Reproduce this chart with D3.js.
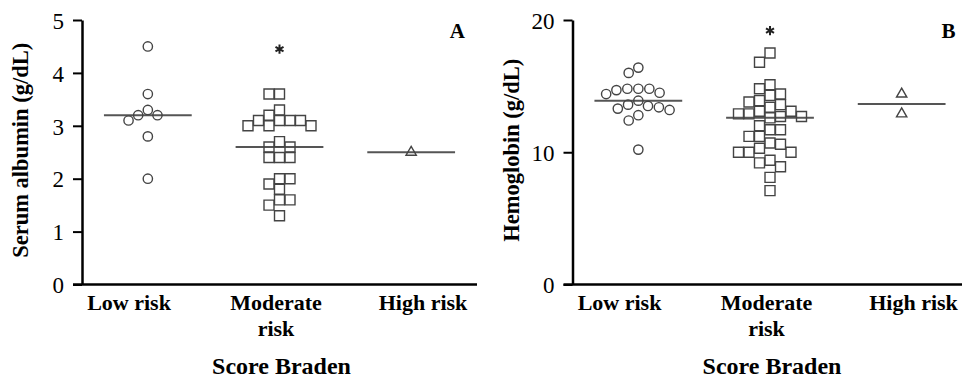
<!DOCTYPE html>
<html>
<head>
<meta charset="utf-8">
<script src="https://cdn.jsdelivr.net/npm/d3@7"></script>
<style>
  html, body { margin: 0; padding: 0; background: #fff; }
  svg { display: block; }
  text { font-family: "Liberation Serif", "Times New Roman", serif; fill: #000; }
</style>
</head>
<body>
<svg id="chart" width="962" height="380"></svg>
<script>
// ---------- data ----------
const categories = ["Low risk", "Moderate risk", "High risk"];
const categoryLines = [["Low risk"], ["Moderate", "risk"], ["High risk"]];
const shapes = ["circle", "square", "triangle"];

const albuminLow = [4.5, 3.6, 3.3, 3.2, 3.2, 3.1, 2.8, 2.0];
const albuminModerate = [3.6, 3.6, 3.3, 3.2, 3.1, 3.1, 3.1, 3.1, 3.0, 3.0, 3.0, 2.7, 2.6, 2.6,
                         2.4, 2.4, 2.4, 2.0, 2.0, 1.9, 1.8, 1.6, 1.6, 1.5, 1.3];
const albuminHigh = [2.5];
const albuminTicks = [0, 1, 2, 3, 4, 5];
const albuminStar = 4.45;   // significance marker on "Moderate risk"

const hemoLow = [16.4, 16.0, 14.8, 14.8, 14.8, 14.7, 14.5, 14.4, 13.9, 13.6, 13.5, 13.4,
                 13.3, 13.2, 12.8, 12.4, 10.2];
const hemoModerate = [17.5, 16.8, 15.1, 14.8, 14.4, 14.3, 13.9, 13.8, 13.6, 13.4, 13.1, 13.1,
                      12.9, 12.9, 12.7, 12.7, 12.6, 12.0, 11.7, 11.7, 11.2, 11.2, 10.7, 10.6,
                      10.3, 10.0, 10.0, 10.0, 9.4, 9.2, 8.9, 8.1, 7.1];
const hemoHigh = [14.4, 12.9];
const hemoTicks = [0, 10, 20];
const hemoStar = 19.2;

const panels = [
  { letter: "A", yTitle: "Serum albumin (g/dL)", xTitle: "Score Braden",
    groups: [albuminLow, albuminModerate, albuminHigh], ticks: albuminTicks,
    yMax: 5, star: albuminStar, left: 82 },
  { letter: "B", yTitle: "Hemoglobin (g/dL)", xTitle: "Score Braden",
    groups: [hemoLow, hemoModerate, hemoHigh], ticks: hemoTicks,
    yMax: 20, star: hemoStar, left: 572.5 }
];

// ---------- layout ----------
const svg = d3.select("#chart");
const plotW = 395, yTop = 20, yBottom = 284.5, tickLen = 9;
const symSize = { circle: 68, square: 100, triangle: 46 };
const collide = { circle: 11, square: 10.5, triangle: 10.5 };

function swarm(vals, y, shape) {
  const D = collide[shape];
  const placed = [];
  const sorted = vals.slice().sort((a, b) => b - a);
  sorted.forEach((v, i) => {
    const py = y(v);
    const cands = [0];
    placed.forEach(p => {
      const dy = Math.abs(p.y - py);
      if (dy < D) {
        const dx = shape === "circle" ? Math.sqrt(D * D - dy * dy) : D;
        cands.push(p.x + dx, p.x - dx);
      }
    });
    const pref = i % 2 === 0 ? 1 : -1;
    cands.sort((a, b) => (Math.abs(a) - Math.abs(b)) || (pref * (b - a)));
    const hit = x => placed.some(p => {
      const dx = Math.abs(p.x - x), dy = Math.abs(p.y - py);
      return shape === "circle" ? (dx * dx + dy * dy < D * D - 0.01)
                                : (dx < D - 0.01 && dy < D - 0.01);
    });
    const x = cands.find(c => !hit(c));
    placed.push({ x, y: py, v });
  });
  return placed;
}

const symbolType = { circle: d3.symbolCircle, square: d3.symbolSquare, triangle: d3.symbolTriangle };

panels.forEach(P => {
  const g = svg.append("g");
  const x = d3.scaleBand().domain(categories).range([P.left, P.left + plotW]);
  const labelX = d3.scalePoint().domain(categories).range([P.left + 47, P.left + 341]);
  const y = d3.scaleLinear().domain([0, P.yMax]).range([yBottom, yTop]);

  // y axis
  const ya = g.append("g").attr("transform", `translate(${P.left},0)`)
    .call(d3.axisLeft(y).tickValues(P.ticks).tickFormat(d3.format("d"))
      .tickSize(tickLen).tickSizeOuter(0).tickPadding(9));
  ya.select(".domain").attr("stroke", "#000").attr("stroke-width", 2.5);
  ya.selectAll(".tick line").attr("stroke", "#000").attr("stroke-width", 2);
  ya.selectAll(".tick text").attr("font-size", 23).attr("font-family", "Liberation Serif")
    .attr("fill", "#000").attr("dy", "0.36em");

  // x axis line
  g.append("line")
    .attr("x1", x.range()[0] - tickLen).attr("x2", x.range()[1])
    .attr("y1", y(0)).attr("y2", y(0))
    .attr("stroke", "#000").attr("stroke-width", 2.5);

  // category labels
  categories.forEach((c, i) => {
    const t = g.append("text").attr("text-anchor", "middle")
      .attr("font-weight", "bold").attr("font-size", 22)
      .attr("x", labelX(c)).attr("y", 310);
    categoryLines[i].forEach((line, k) => {
      t.append("tspan").attr("x", labelX(c)).attr("dy", k === 0 ? 0 : 26).text(line);
    });
  });

  // x title
  g.append("text").attr("text-anchor", "middle").attr("font-weight", "bold")
    .attr("font-size", 24).attr("x", x("Moderate risk") + x.bandwidth() / 2 + 2).attr("y", 374)
    .text(P.xTitle);

  // y title
  g.append("text").attr("text-anchor", "middle").attr("font-weight", "bold")
    .attr("font-size", 22.5)
    .attr("transform", `translate(${P.left - 54},${(yTop + yBottom) / 2 - 2}) rotate(-90)`)
    .text(P.yTitle);

  // panel letter
  g.append("text").attr("text-anchor", "end").attr("font-weight", "bold")
    .attr("font-size", 21).attr("x", P.left + 383).attr("y", 38).text(P.letter);

  // groups
  P.groups.forEach((vals, i) => {
    const cat = categories[i];
    const cx = x(cat) + x.bandwidth() / 2;
    const shape = shapes[i];
    const med = d3.median(vals);
    const w = x.bandwidth() * 2 / 3;
    g.append("line")
      .attr("x1", cx - w / 2).attr("x2", cx + w / 2)
      .attr("y1", y(med)).attr("y2", y(med))
      .attr("stroke", "#555").attr("stroke-width", 2);
    const pts = swarm(vals, y, shape);
    g.append("g").selectAll("path").data(pts).join("path")
      .attr("transform", d => `translate(${cx + d.x},${d.y})`)
      .attr("d", d3.symbol(symbolType[shape], symSize[shape]))
      .attr("fill", "none")
      .attr("stroke", "#444").attr("stroke-width", 1.4);
  });

  // significance asterisk
  const sx = x("Moderate risk") + x.bandwidth() / 2;
  g.append("path")
    .attr("transform", `translate(${sx},${y(P.star)})`)
    .attr("d", d3.symbol(d3.symbolAsterisk, 60))
    .attr("stroke", "#222").attr("stroke-width", 2).attr("fill", "none");
});
</script>
</body>
</html>
